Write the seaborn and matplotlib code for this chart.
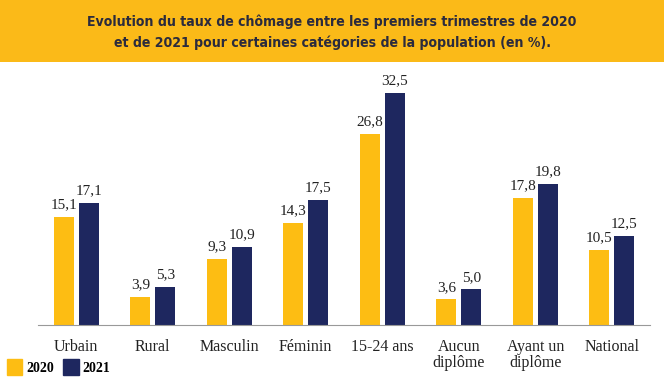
import seaborn as sns
import matplotlib.pyplot as plt
import pandas as pd
from matplotlib.patches import Rectangle

categories = ['Urbain', 'Rural', 'Masculin', 'Féminin', '15-24 ans',
              'Aucun\ndiplôme', 'Ayant un\ndiplôme', 'National']
values_2020 = [15.1, 3.9, 9.3, 14.3, 26.8, 3.6, 17.8, 10.5]
values_2021 = [17.1, 5.3, 10.9, 17.5, 32.5, 5.0, 19.8, 12.5]
years = ['2020', '2021']

yellow = '#FDBD13'
navy = '#1E275F'

df = pd.DataFrame({
    'cat': categories * 2,
    'val': values_2020 + values_2021,
    'year': [years[0]] * len(categories) + [years[1]] * len(categories),
})

fig = plt.figure(figsize=(6.64, 3.78), dpi=100)
fig.patches.append(Rectangle((0, 1 - 62 / 378), 1, 62 / 378, transform=fig.transFigure,
                             facecolor='#FBBA18', edgecolor='none', zorder=0))
fig.text(0.5, 1 - 32 / 378, 'Evolution du taux de chômage entre les premiers trimestres de 2020\n'
         'et de 2021 pour certaines catégories de la population (en %).',
         ha='center', va='center', fontsize=10.1, fontweight='bold', color='#2b2b3d',
         family='DejaVu Sans', fontstretch='condensed', linespacing=1.55)

ax = fig.add_axes([38 / 664, 1 - 325 / 378, 612 / 664, 255 / 378])
sns.barplot(data=df, x='cat', y='val', hue='year', palette=[yellow, navy],
            width=0.65, gap=0.2, ax=ax, saturation=1)
for cont in ax.containers:
    ax.bar_label(cont, labels=[f'{v:.1f}'.replace('.', ',') for v in cont.datavalues],
                 padding=4, fontsize=11, family='Liberation Serif', color='#222222')

ax.set_ylim(0, 35.7)
ax.set_xlim(-0.5, len(categories) - 0.5)
ax.set_xlabel('')
ax.set_ylabel('')
ax.set_yticks([])
for s in ['top', 'right', 'left']:
    ax.spines[s].set_visible(False)
ax.spines['bottom'].set_color('#999999')
ax.tick_params(axis='x', length=0, pad=10)
for lab in ax.get_xticklabels():
    lab.set_family('Liberation Serif')
    lab.set_fontsize(11.5)
    lab.set_color('#222222')
    lab.set_linespacing(1.0)

ax.legend_.remove()
handles = [Rectangle((0, 0), 1, 1, color=yellow), Rectangle((0, 0), 1, 1, color=navy)]
fig.legend(handles, years, loc='lower left', bbox_to_anchor=(-0.008, -0.025), ncol=2,
           frameon=False, handlelength=1.1, handleheight=1.4, handletextpad=0.25,
           columnspacing=0.7, prop={'weight': 'bold', 'size': 10, 'family': 'Liberation Serif'})

fig.savefig('out.png', dpi=100)
